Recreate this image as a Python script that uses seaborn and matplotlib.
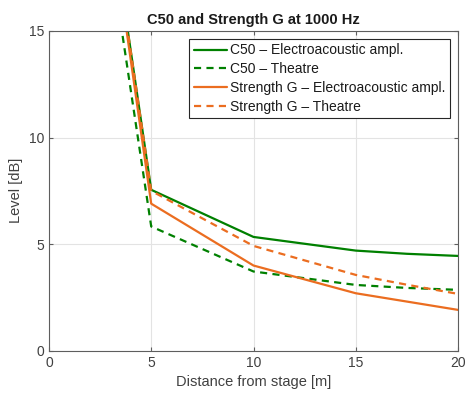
import matplotlib
matplotlib.use("Agg")
import matplotlib.pyplot as plt
import seaborn as sns
import pandas as pd

distance = [2, 5, 10, 15, 17.5, 20]
c50_ea = [27.1, 7.55, 5.34, 4.70, 4.55, 4.45]
c50_theatre = [25.0, 5.83, 3.72, 3.09, 2.95, 2.86]
g_ea = [27.1, 6.90, 4.00, 2.70, 2.31, 1.92]
g_theatre = [27.1, 7.50, 4.92, 3.56, 3.10, 2.67]

labels = ["C50 \u2013 Electroacoustic ampl.", "C50 \u2013 Theatre",
          "Strength G \u2013 Electroacoustic ampl.", "Strength G \u2013 Theatre"]
series = [c50_ea, c50_theatre, g_ea, g_theatre]
colors = ["#008000", "#008000", "#EB6D20", "#EB6D20"]
styles = ["-", "--", "-", "--"]

sns.set_style("whitegrid")
plt.rcParams["font.family"] = ["Liberation Sans", "DejaVu Sans"]

fig = plt.figure(figsize=(4.66, 3.96), dpi=100)
ax = fig.add_axes([0.105, 0.114, 0.878, 0.808])

for vals, lab, col, ls in zip(series, labels, colors, styles):
    df = pd.DataFrame({"d": distance, "v": vals})
    sns.lineplot(data=df, x="d", y="v", ax=ax, color=col, label=lab,
                 linewidth=1.6)
    l = ax.get_lines()[-1]
    if ls == "--":
        l.set_dashes((3.2, 2.4))

ax.set_xlim(0, 20)
ax.set_ylim(0, 15)
ax.set_xticks([0, 5, 10, 15, 20])
ax.set_yticks([0, 5, 10, 15])
ax.grid(True, color="#e3e3e3", linewidth=0.8)
for s in ax.spines.values():
    s.set_visible(True)
    s.set_color("#5e5e5e")
    s.set_linewidth(0.8)
ax.tick_params(direction="in", length=3, labelsize=10, colors="#5e5e5e",
               labelcolor="#404040", bottom=True, left=True, top=True, right=True,
               labeltop=False, labelright=False)
ax.set_xlabel("Distance from stage [m]", fontsize=10.5, color="#404040")
ax.set_ylabel("Level [dB]", fontsize=10.5, color="#404040")
ax.set_title("C50 and Strength G at 1000 Hz", fontsize=10.5, fontweight="bold",
             pad=5, color="#1a1a1a")

leg = ax.legend(loc="upper right", fontsize=10, frameon=True, fancybox=False,
                edgecolor="#262626", framealpha=1, handlelength=2.4,
                handletextpad=0.2, borderpad=0.35, labelspacing=0.34,
                borderaxespad=0.55)
leg.get_frame().set_linewidth(0.8)
for t in leg.get_texts():
    t.set_color("#1a1a1a")

fig.savefig("out.png", dpi=100)
